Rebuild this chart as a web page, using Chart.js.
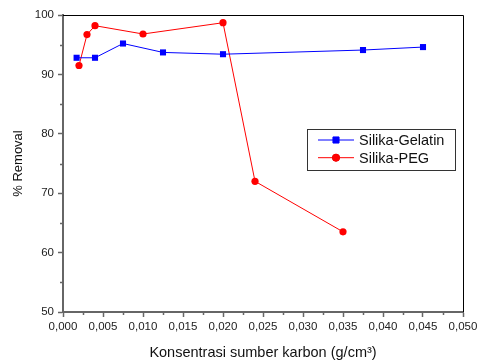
<!DOCTYPE html>
<html>
<head>
<meta charset="utf-8">
<script src="https://cdn.jsdelivr.net/npm/chart.js@4/dist/chart.umd.min.js"></script>
<style>
html, body { margin: 0; padding: 0; background: #fff; }
#wrap { width: 477px; height: 360px; }
</style>
</head>
<body>
<div id="wrap"><canvas id="chart"></canvas></div>
<script>
//
// Data
var gelatinX = [0.0017, 0.004, 0.0075, 0.0125, 0.02, 0.0375, 0.045];
var gelatinY = [92.8, 92.8, 95.2, 93.7, 93.4, 94.1, 94.6];
var pegX = [0.002, 0.003, 0.004, 0.01, 0.02, 0.024, 0.035];
var pegY = [91.5, 96.7, 98.2, 96.8, 98.7, 72.0, 63.5];
var seriesNames = ['Silika-Gelatin', 'Silika-PEG'];
var xTitle = 'Konsentrasi sumber karbon (g/cm\u00B3)';
var yTitle = '% Removal';

function toPoints(xs, ys) {
    var pts = [];
    for (var i = 0; i < xs.length; i++) {
        pts.push({ x: xs[i], y: ys[i] });
    }
    return pts;
}

var font = 'Liberation Sans, Arial, sans-serif';

//
// Frame on top and right, minor ticks
var framePlugin = {
    id: 'frame',
    afterDraw: function(chart) {
        var ctx = chart.ctx;
        var a = chart.chartArea;
        ctx.save();
        ctx.strokeStyle = '#000';
        ctx.lineWidth = 1;
        ctx.beginPath();
        ctx.moveTo(a.left, a.top + 0.5);
        ctx.lineTo(a.right + 0.5, a.top + 0.5);
        ctx.lineTo(a.right + 0.5, a.bottom);
        ctx.stroke();

        // minor ticks
        ctx.strokeStyle = '#666';
        ctx.lineWidth = 1.5;
        var xs = chart.scales.x, ys = chart.scales.y;
        ctx.beginPath();
        for (var v = 0.0025; v < 0.05; v += 0.005) {
            var px = Math.round(xs.getPixelForValue(v)) + 0.5;
            ctx.moveTo(px, a.bottom);
            ctx.lineTo(px, a.bottom + 3);
        }
        for (var w = 55; w < 100; w += 10) {
            var py = Math.round(ys.getPixelForValue(w)) + 0.5;
            ctx.moveTo(a.left, py);
            ctx.lineTo(a.left - 3, py);
        }
        ctx.stroke();
        ctx.restore();
    }
};

//
// Legend box inside the plot
var boxLegendPlugin = {
    id: 'boxLegend',
    afterDraw: function(chart) {
        var ctx = chart.ctx;
        var x0 = 307, y0 = 129, w = 148, h = 41;
        ctx.save();
        ctx.fillStyle = '#fff';
        ctx.fillRect(x0, y0, w, h);
        ctx.strokeStyle = '#333';
        ctx.lineWidth = 1;
        ctx.strokeRect(x0 + 0.5, y0 + 0.5, w, h);
        chart.data.datasets.forEach(function(ds, i) {
            var cy = 140 + i * 17.7;
            ctx.strokeStyle = ds.borderColor;
            ctx.lineWidth = 1;
            ctx.beginPath();
            ctx.moveTo(318, cy);
            ctx.lineTo(354, cy);
            ctx.stroke();
            Chart.helpers.drawPoint(ctx, {
                pointStyle: ds.pointStyle,
                radius: ds.pointRadius,
                borderWidth: 1
            }, 336, cy);
            ctx.fillStyle = ds.backgroundColor;
            ctx.strokeStyle = ds.borderColor;
            ctx.fill();
            ctx.fillStyle = '#111';
            ctx.font = '14.5px ' + font;
            ctx.textBaseline = 'middle';
            ctx.fillText(ds.label, 359, cy + 1);
        });
        ctx.restore();
    }
};

new Chart(document.getElementById('chart').getContext('2d'), {
    type: 'scatter',
    data: {
        datasets: [{
            label: seriesNames[0],
            data: toPoints(gelatinX, gelatinY),
            showLine: true,
            borderColor: '#0000ff',
            backgroundColor: '#0000ff',
            borderWidth: 1,
            pointStyle: 'rect',
            pointRadius: 4.3,
            pointBorderWidth: 0,
            tension: 0
        }, {
            label: seriesNames[1],
            data: toPoints(pegX, pegY),
            showLine: true,
            borderColor: '#ff0000',
            backgroundColor: '#ff0000',
            borderWidth: 1,
            pointStyle: 'circle',
            pointRadius: 3.6,
            pointBorderWidth: 0,
            tension: 0
        }]
    },
    options: {
        responsive: true,
        maintainAspectRatio: false,
        animation: false,
        clip: false,
        layout: { padding: { left: 0, right: 14, top: 15, bottom: 0 } },
        plugins: {
            legend: { display: false },
            tooltip: { enabled: false }
        },
        scales: {
            x: {
                type: 'linear',
                min: 0,
                max: 0.05,
                border: { color: '#666', width: 2 },
                grid: { drawOnChartArea: false, drawTicks: true, tickLength: 5, tickColor: '#666', tickWidth: 1.5 },
                ticks: {
                    stepSize: 0.005,
                    padding: 3,
                    maxRotation: 0,
                    color: '#222',
                    font: { family: font, size: 11.5 },
                    callback: function(v) { return v.toFixed(3).replace('.', ','); }
                },
                title: {
                    display: true,
                    text: xTitle,
                    color: '#111',
                    font: { family: font, size: 14.5 },
                    padding: { top: 0, bottom: -1.5 }
                },
                afterFit: function(scale) {
                    scale.height = 48;
                    scale.paddingRight = 0;
                    scale.paddingLeft = 0;
                }
            },
            y: {
                min: 50,
                max: 100,
                border: { color: '#666', width: 2 },
                grid: { drawOnChartArea: false, drawTicks: true, tickLength: 5, tickColor: '#666', tickWidth: 1.5 },
                ticks: {
                    stepSize: 10,
                    padding: 4,
                    color: '#222',
                    font: { family: font, size: 11.5 },
                    callback: function(v) { return v; }
                },
                title: {
                    display: true,
                    text: yTitle,
                    color: '#111',
                    font: { family: font, size: 13 },
                    padding: { top: 10.7, bottom: 0 }
                },
                afterFit: function(scale) {
                    scale.width = 63;
                    scale.paddingTop = 0;
                    scale.paddingBottom = 0;
                }
            }
        }
    },
    plugins: [framePlugin, boxLegendPlugin]
});
</script>
</body>
</html>
